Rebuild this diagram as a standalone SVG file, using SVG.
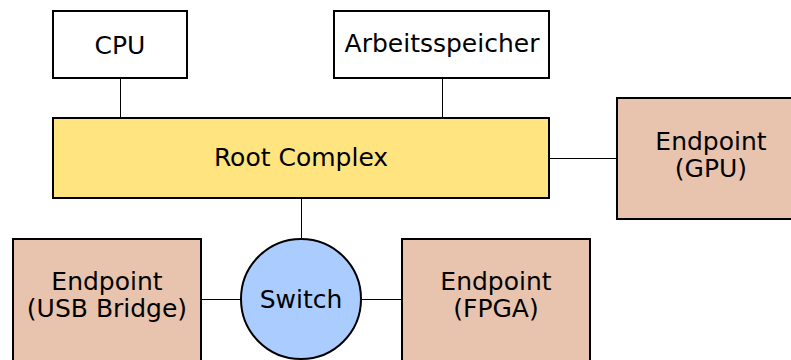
<svg xmlns="http://www.w3.org/2000/svg" width="791" height="360" viewBox="0 0 791 360">
<style>
.box{stroke:#000;stroke-width:2}
.plain{fill:#fff}
.root{fill:#ffe480}
.ep{fill:#e8c4ae}
.sw{fill:#aaccff}
.conn{stroke:#000;stroke-width:1;fill:none}
text{font-family:"DejaVu Sans",Verdana,sans-serif;font-size:25px;fill:#000;text-anchor:middle}
</style>
<rect width="791" height="360" fill="#fff"/>
<g id="connectors">
<line class="conn" x1="120.5" y1="78" x2="120.5" y2="118"/>
<line class="conn" x1="442.5" y1="78" x2="442.5" y2="118"/>
<line class="conn" x1="549" y1="158.5" x2="617" y2="158.5"/>
<line class="conn" x1="301.5" y1="198" x2="301.5" y2="239"/>
<line class="conn" x1="201" y1="299.5" x2="241" y2="299.5"/>
<line class="conn" x1="361" y1="299.5" x2="402" y2="299.5"/>
</g>
<g id="cpu">
<rect class="box plain" x="53" y="11" width="134" height="67"/>
<text x="120" y="53.5">CPU</text>
</g>
<g id="arbeitsspeicher">
<rect class="box plain" x="334" y="11" width="215" height="67"/>
<text x="442" y="52">Arbeitsspeicher</text>
</g>
<g id="root-complex">
<rect class="box root" x="53" y="118" width="496" height="80"/>
<text x="301" y="166">Root Complex</text>
</g>
<g id="endpoint-gpu">
<rect class="box ep" x="617" y="98" width="188" height="121"/>
<text x="711" y="149.5">Endpoint</text>
<text x="711" y="177">(GPU)</text>
</g>
<g id="switch">
<ellipse class="box sw" cx="301" cy="299" rx="60" ry="60"/>
<text x="301" y="308">Switch</text>
</g>
<g id="endpoint-usb">
<rect class="box ep" x="13" y="239" width="188" height="123"/>
<text x="107" y="289.5">Endpoint</text>
<text x="107" y="317">(USB Bridge)</text>
</g>
<g id="endpoint-fpga">
<rect class="box ep" x="402" y="239" width="188" height="123"/>
<text x="496" y="289.5">Endpoint</text>
<text x="496" y="317">(FPGA)</text>
</g>
</svg>
